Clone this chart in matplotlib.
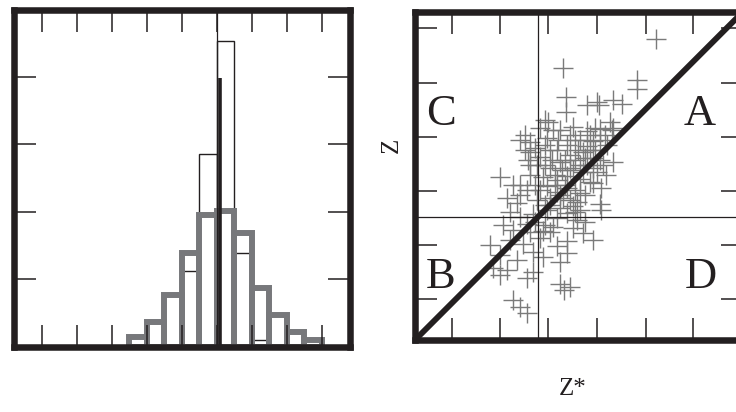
import numpy as np
import matplotlib.pyplot as plt

# density histograms (left panel), bin width 0.5
all_edges = np.arange(-2.5, 3.01, 0.5)
all_density = [0.029, 0.074, 0.152, 0.277, 0.390, 0.403, 0.338, 0.174, 0.093, 0.045, 0.019]
sel_edges = np.arange(-1.0, 1.51, 0.5)
sel_density = [0.226, 0.571, 0.906, 0.278, 0.019]
spike_x = 0.08
spike_height = 0.797

# scatter of Z against Z* (right panel)
zstar = [2.45, 0.52, 2.06, 2.06, 0.59, 0.59, 1.02, 1.23, 1.27, 1.56, 1.75, 0.15, -0.78, 1.56, 1.50, 1.54,
         0.05, 0.32, 0.73, 1.02, 1.29, 1.56,
         -0.16, 0.19, 0.61, 0.88, 1.02, 1.15,
         -0.16, 0.05, 0.40, 0.67, 0.94, 1.15,
         -0.01, 0.25, 0.46, 0.73, 1.02, 1.23,
         0.11, 0.40, 0.61, 0.88, 1.15,
         -0.51, -0.22, 0.19, 0.40, 0.61, 0.88, 1.08,
         -0.64, -0.43, -0.01, 0.25, 0.52, 0.73, 1.29,
         -0.57, -0.37, -0.10, 0.19, 0.40, 0.61, 0.81, 1.31,
         -0.72, -0.51, -0.22, 0.11, 0.32, 0.73, 0.94,
         -0.99, -0.57, -0.30, 0.05, 0.40, 0.61, 1.15,
         -0.78, -0.43, -0.10, 0.11, 0.46, 0.61,
         -0.93, -0.78, -0.64, -0.22, -0.10,
         0.46, 0.55, 0.67,
         -0.51, -0.37, -0.22,
         -0.26, -0.06, 0.15, 0.30, 0.42, 0.50, 0.67, 0.77, 0.84, 0.94, 1.08, 1.19, 1.29, 1.35, 1.44,
         0.15, 0.36, 0.57, 0.77, 0.98, 0.05, 0.25, 0.46, 0.67, 0.88, -0.16, -0.37, -0.06, 0.15, 0.98,
         1.40, 0.21, -0.20, -0.37, 1.31, 1.15, 0.81, 0.77,
         0.25, 0.46, 0.57, 0.77, 0.98, 1.19, 0.36, 0.15, 0.67, 0.88,
         1.08, -0.16, -0.26, -0.37, -0.06, 0.46, 1.29, 1.42, 0.25, -0.16]
z = [3.69, 3.09, 2.84, 2.65, 2.49, 2.18, 2.32, 2.38, 2.32, 2.43, 2.34, 2.01, 0.83, 1.14, 1.97, 1.80,
     1.85, 1.80, 1.87, 1.78, 1.82, 1.85,
     1.55, 1.64, 1.49, 1.60, 1.47, 1.58,
     1.35, 1.24, 1.39, 1.29, 1.35, 1.22,
     1.08, 1.02, 1.14, 0.97, 1.08, 0.93,
     0.83, 0.77, 0.85, 0.79, 0.70,
     0.66, 0.56, 0.64, 0.52, 0.60, 0.50, 0.73,
     0.39, 0.29, 0.35, 0.25, 0.39, 0.23, 0.27,
     0.10, 0.00, 0.06, 0.15, -0.02, 0.08, -0.06, 0.15,
     -0.17, -0.27, -0.15, -0.29, -0.21, -0.23, -0.33,
     -0.58, -0.48, -0.56, -0.44, -0.60, -0.50, -0.48,
     -0.79, -0.89, -0.73, -0.83, -0.93, -0.75,
     -1.06, -1.20, -1.10, -1.26, -1.14,
     -1.39, -1.51, -1.45,
     -1.72, -1.87, -1.99,
     1.70, 1.43, 1.49, 1.18, 1.60, 0.97, 1.70, 1.18, 1.39, 0.93, 1.70, 1.39, 1.60, 1.08, 1.49,
     1.08, 0.87, 0.66, 0.56, 0.46, 0.56, 0.39, 0.19, 0.35, 0.15, 0.87, 0.46, -0.10, -0.17, -0.10,
     1.70, 1.97, 1.18, 0.66, 0.60, 1.02, 0.31, 0.10,
     1.39, 1.80, 1.18, 1.60, 1.22, 1.85, 0.66, 0.25, 1.02, 1.08,
     1.39, 1.08, 1.39, 1.60, 0.66, 0.46, 1.18, 0.87, -0.31, -0.31]

zstar_ticks = [-1.783, -0.783, 0.220, 1.223, 2.239, 3.226]
z_ticks = [-1.70, -0.58, 0.545, 1.665, 2.784, 3.912]
quadrant_names = ['C', 'A', 'B', 'D']
quadrant_xy = [(0.079, 0.655), (0.869, 0.655), (0.079, 0.158), (0.872, 0.158)]

ink = '#231f20'
gray = '#77787b'
cross_gray = '#7a7a7a'
serif = ['Liberation Serif', 'DejaVu Serif']


def frame(ax):
    for s in ax.spines.values():
        s.set_linewidth(4.7)
        s.set_color(ink)
    ax.tick_params(direction='in', length=15.5, width=1.1, color=ink,
                   top=True, right=True, labelbottom=False, labelleft=False)


fig = plt.figure(figsize=(7.36, 4.12), dpi=100)

ax1 = fig.add_axes([0.01875, 0.1585, 0.4568, 0.818])
ax1.bar(sel_edges[:-1], sel_density, width=0.5, align='edge', fill=False,
        edgecolor=ink, linewidth=1.0)
ax1.bar(all_edges[:-1], all_density, width=0.5, align='edge', fill=False,
        edgecolor=gray, linewidth=4.3)
ax1.axvline(0, color=ink, lw=0.9)
ax1.vlines(spike_x, 0, spike_height, color=ink, lw=2.6)
ax1.set_xlim(-5.8, 3.806)
ax1.set_ylim(0, 1.0)
ax1.set_xticks(np.arange(-5, 4))
ax1.set_yticks(np.arange(0, 1.01, 0.2))
frame(ax1)

ax2 = fig.add_axes([0.5639, 0.1748, 0.4457, 0.7968])
ax2.plot(zstar, z, '+', color=cross_gray, ms=14, mew=1.0, zorder=2)
ax2.axvline(0, color=ink, lw=0.9, zorder=3)
ax2.axhline(0, color=ink, lw=0.9, zorder=3)
ax2.axline((0, 0), slope=1, color=ink, lw=4.2, zorder=4)
ax2.set_xlim(-2.55, 4.26)
ax2.set_ylim(-2.55, 4.26)
ax2.set_xticks(zstar_ticks)
ax2.set_yticks(z_ticks)
frame(ax2)
for name, (tx, ty) in zip(quadrant_names, quadrant_xy):
    ax2.text(tx, ty, name, transform=ax2.transAxes, ha='center', va='baseline',
             fontsize=32, color=ink, family=serif)

fig.text(392 / 736, 1 - 145 / 412, 'Z', rotation=90, ha='center', va='center',
         fontsize=18, color=ink, family=serif)
fig.text(573 / 736, 1 - 389 / 412, 'Z*', ha='center', va='center',
         fontsize=18, color=ink, family=serif)

fig.savefig('out.png', dpi=100)
